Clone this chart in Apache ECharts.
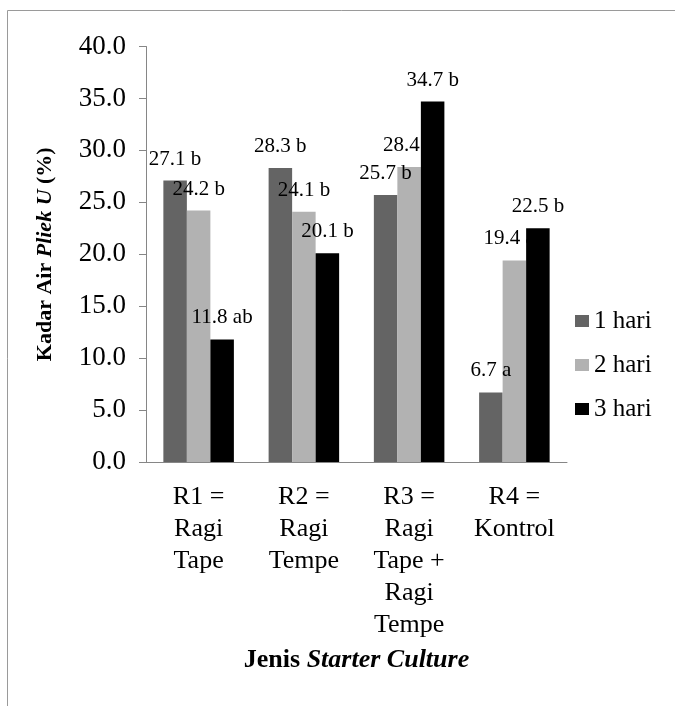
<!DOCTYPE html>
<html>
<head>
<meta charset="utf-8">
<script src="https://cdn.jsdelivr.net/npm/echarts@6/dist/echarts.min.js"></script>
<style>
  html, body { margin: 0; padding: 0; background: #fff; }
  #chart { width: 675px; height: 706px; }
</style>
</head>
<body>
<div id="chart"></div>
<script>
// jenis starter culture
var categories = ['R1 =\nRagi\nTape', 'R2 =\nRagi\nTempe', 'R3 =\nRagi\nTape +\nRagi\nTempe', 'R4 =\nKontrol'];
var seriesNames = ['1 hari', '2 hari', '3 hari'];

// kadar air (%) per hari
var hari1 = [27.1, 28.3, 25.7, 6.7];
var hari2 = [24.2, 24.1, 28.4, 19.4];
var hari3 = [11.8, 20.1, 34.7, 22.5];

// notasi uji lanjut
var notasi1 = ['b', 'b', 'b', 'a'];
var notasi2 = ['b', 'b', 'b', 'ab'];
var notasi3 = ['ab', 'b', 'b', 'b'];

var yTicks = [0, 5, 10, 15, 20, 25, 30, 35, 40];

var font = 'Liberation Serif';
var axisGray = '#868686';
var colors = ['#646464', '#b2b2b2', '#000000'];

function makeSeries(name, values, notes, color) {
	return {
		name: name,
		type: 'bar',
		data: values,
		barGap: '0%',
		barCategoryGap: '33%',
		itemStyle: { color: color },
		label: {
			show: true,
			position: 'top',
			distance: 11,
			color: '#000',
			fontFamily: font,
			fontSize: 21,
			formatter: function (p) {
				return p.value.toFixed(1) + ' ' + notes[p.dataIndex];
			}
		}
	};
}

var chart = echarts.init(document.getElementById('chart'));

var option = {
	animation: false,
	backgroundColor: '#fff',
	textStyle: { fontFamily: font },
	graphic: [{
		type: 'rect',
		shape: { x: 7.5, y: 10.5, width: 720, height: 720 },
		style: { fill: 'none', stroke: '#9a9a9a', lineWidth: 1 },
		silent: true
	}],
	grid: { left: 146, right: 108, top: 46.5, bottom: 244 },
	legend: {
		orient: 'vertical',
		left: 570,
		top: 301,
		itemWidth: 14,
		itemHeight: 12,
		itemGap: 14,
		icon: 'rect',
		data: seriesNames,
		textStyle: { fontFamily: font, fontSize: 25, color: '#000', lineHeight: 30 }
	},
	xAxis: {
		type: 'category',
		data: categories,
		axisLine: { lineStyle: { color: axisGray } },
		axisTick: { length: 7, lineStyle: { color: axisGray } },
		axisLabel: {
			interval: 0,
			margin: 19,
			color: '#000',
			fontFamily: font,
			fontSize: 26,
			lineHeight: 32,
			verticalAlign: 'top'
		},
		name: '{b|Jenis }{bi|Starter Culture}',
		nameLocation: 'middle',
		nameGap: 185,
		nameTextStyle: {
			rich: {
				b: { fontFamily: font, fontSize: 26, fontWeight: 'bold', color: '#000' },
				bi: { fontFamily: font, fontSize: 26, fontWeight: 'bold', fontStyle: 'italic', color: '#000' }
			}
		}
	},
	yAxis: {
		type: 'value',
		min: yTicks[0],
		max: yTicks[yTicks.length - 1],
		interval: 5,
		splitLine: { show: false },
		axisLine: { show: true, lineStyle: { color: axisGray } },
		axisTick: { show: true, length: 7, lineStyle: { color: axisGray } },
		axisLabel: {
			margin: 20,
			color: '#000',
			fontFamily: font,
			fontSize: 27,
			formatter: function (v) { return v.toFixed(1); }
		},
		name: '{b|Kadar Air }{bi|Pliek U}{b| (%)}',
		nameLocation: 'middle',
		nameRotate: 90,
		nameGap: 90,
		nameTextStyle: {
			rich: {
				b: { fontFamily: font, fontSize: 22, fontWeight: 'bold', color: '#000' },
				bi: { fontFamily: font, fontSize: 22, fontWeight: 'bold', fontStyle: 'italic', color: '#000' }
			}
		}
	},
	series: [
		makeSeries(seriesNames[0], hari1, notasi1, colors[0]),
		makeSeries(seriesNames[1], hari2, notasi2, colors[1]),
		makeSeries(seriesNames[2], hari3, notasi3, colors[2])
	]
};

chart.setOption(option);
</script>
</body>
</html>
